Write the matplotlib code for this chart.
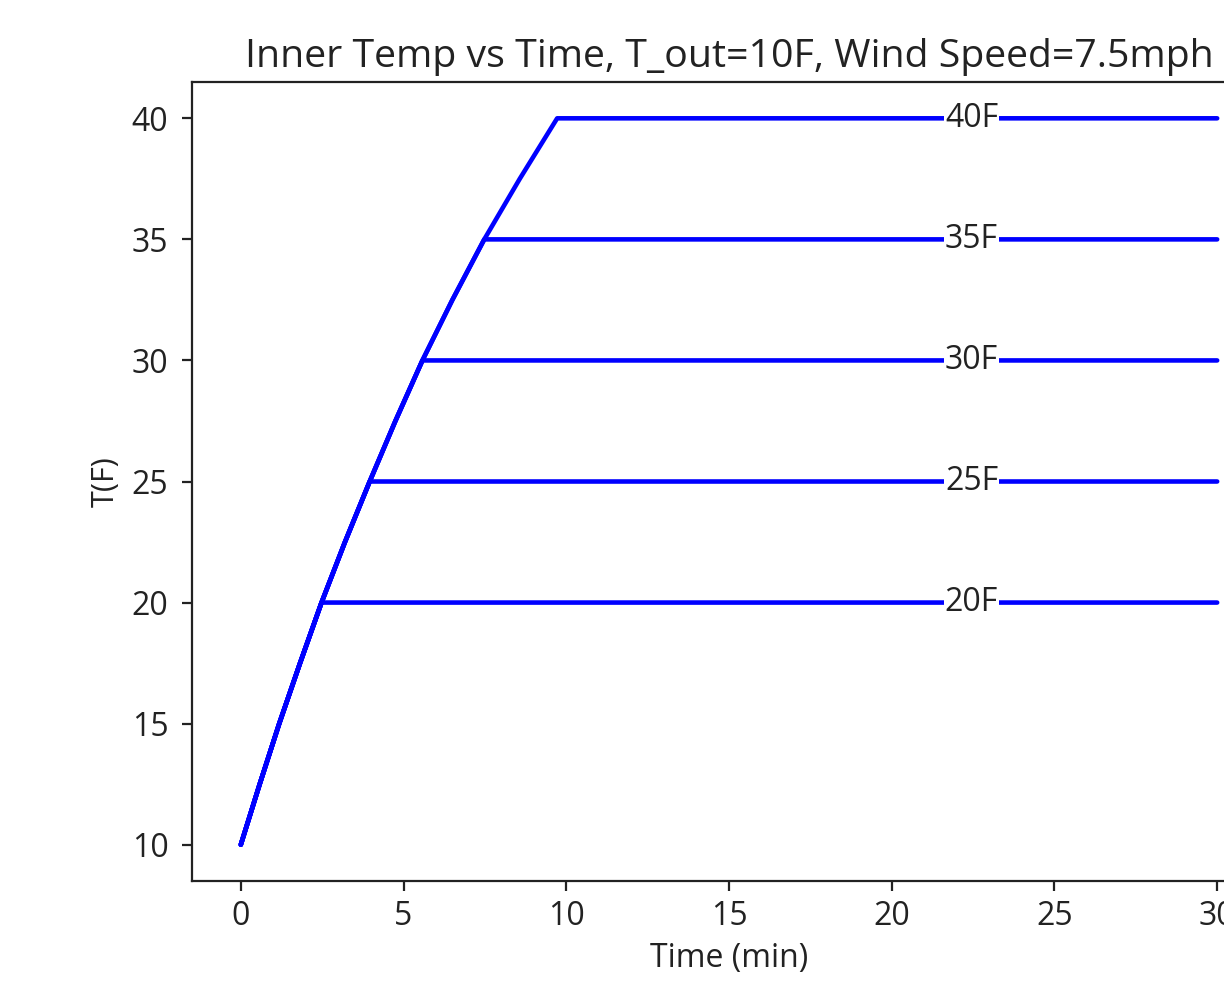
import numpy as np
import matplotlib
matplotlib.use('Agg')
import matplotlib.pyplot as plt

# rising part of the curve (min, F)
rise_time = [0.0, 0.58, 1.18, 1.82, 2.48, 3.20, 3.96, 4.75, 5.58, 6.50, 7.48, 8.57, 9.72]
rise_temp = [10.0, 12.5, 15.0, 17.5, 20.0, 22.5, 25.0, 27.5, 30.0, 32.5, 35.0, 37.5, 40.0]

# set-points: each run heats up to its target then holds it
targets = [20, 25, 30, 35, 40]
end_time = 30.0
label_time = 22.45

plt.rcParams['font.family'] = ['Open Sans', 'DejaVu Sans']
plt.rcParams['font.size'] = 23

fig = plt.figure(figsize=(12.24, 9.82), dpi=100)
# the original picture is cropped on the right, so the axes run past the edge
ax = fig.add_axes([192 / 1224, 1 - 881 / 982, 1074 / 1224, 799 / 982])

for target in targets:
    t = [x for x, y in zip(rise_time, rise_temp) if y <= target]
    T = [y for y in rise_temp if y <= target]
    t.append(end_time)
    T.append(target)
    ax.plot(t, T, color='blue', linewidth=3.3, solid_capstyle='round',
            solid_joinstyle='round')
    ax.text(label_time, target, f'{target}F', ha='center', va='center',
            fontsize=23, color='#222222',
            bbox=dict(facecolor='white', edgecolor='none', pad=0.8))

ax.set_xlim(-1.5, 31.5)
ax.set_ylim(8.5, 41.5)
ax.set_xticks([0, 5, 10, 15, 20, 25, 30])
ax.set_yticks([10, 15, 20, 25, 30, 35, 40])
ax.tick_params(labelsize=23, width=1.6, length=7, colors='#222222')
ax.tick_params(axis='y', pad=10)
ax.tick_params(axis='x', pad=7)
for s in ax.spines.values():
    s.set_linewidth(1.6)
    s.set_color('#222222')

ax.set_xlabel('Time (min)', fontsize=23, color='#222222', labelpad=6)
ax.set_ylabel('T(F)', fontsize=22, color='#222222', labelpad=8)
ax.set_title('Inner Temp vs Time, T_out=10F, Wind Speed=7.5mph', fontsize=28.3,
             pad=11, color='#222222')

plt.savefig('out.png', dpi=100)
